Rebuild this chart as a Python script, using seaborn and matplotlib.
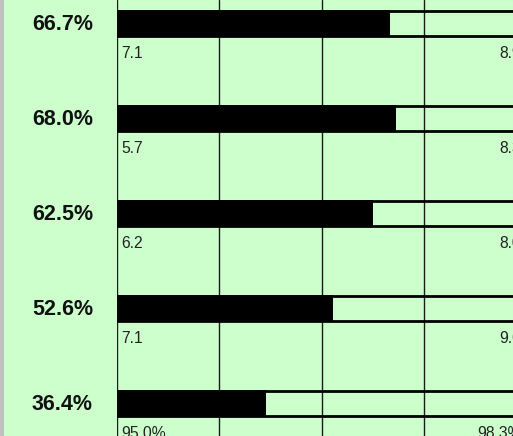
import matplotlib.pyplot as plt
import pandas as pd
import seaborn as sns
from matplotlib.patches import Rectangle

# values (right-hand labels are cut off at the edge)
rows = ['r1', 'r2', 'r3', 'r4', 'r5']
share = [66.7, 68.0, 62.5, 52.6, 36.4]
total = [100, 100, 100, 100, 100]
low_labels = ['7.1', '5.7', '6.2', '7.1', '95.0%']
high_labels = ['8.9', '8.3', '8.0', '9.0', '98.3%']

GREEN = '#CCFFCC'
W, H = 513, 436

df = pd.DataFrame({'row': rows, 'share': share, 'total': total})

sns.set_style('white')
plt.rcParams['font.family'] = ['Liberation Sans', 'DejaVu Sans']

fig = plt.figure(figsize=(W / 100, H / 100), dpi=100)
fig.patch.set_facecolor(GREEN)
# thin grey strip on the far left
fig.add_artist(Rectangle((0, 0), 4 / W, 1, transform=fig.transFigure,
                         facecolor='#C0C0C0', edgecolor='none'))

# plot area starts at x=117px, 100% lands just past the right edge
ax = fig.add_axes([117 / W, 0, 410 / W, 1])
ax.set_facecolor(GREEN)

sns.barplot(data=df, x='total', y='row', orient='h', color='black',
            fill=False, linewidth=2, width=0.255, ax=ax, zorder=2)
sns.barplot(data=df, x='share', y='row', orient='h', color='black',
            linewidth=0, width=0.285, ax=ax, zorder=3, saturation=1)

ax.set_xlim(0, 100)
pitch = 95
ax.set_ylim((H - 23.5) / pitch, -23.5 / pitch)
ax.set_xticks([0, 25, 50, 75, 100])
ax.grid(axis='x', color='#1a1a1a', linewidth=1.0, zorder=1)
ax.grid(axis='y', visible=False)
ax.set_axisbelow(True)
ax.tick_params(left=False, bottom=False, labelleft=False, labelbottom=False)
ax.set_xlabel('')
ax.set_ylabel('')
for s in ax.spines.values():
    s.set_visible(False)

for i, (p, lo, hi) in enumerate(zip(share, low_labels, high_labels)):
    ax.text(-5.85, i - 0.015, f'{p:.1f}%', ha='right', va='center_baseline',
            fontsize=15.5, fontweight='bold', color='#111111')
    ax.text(0.95, i + 0.235, lo, ha='left', va='top', fontsize=11.3,
            color='#222222')
    ax.text(98.6, i + 0.235, hi, ha='right', va='top', fontsize=11.3,
            color='#222222')

fig.savefig('out.png', dpi=100, facecolor=fig.get_facecolor())
